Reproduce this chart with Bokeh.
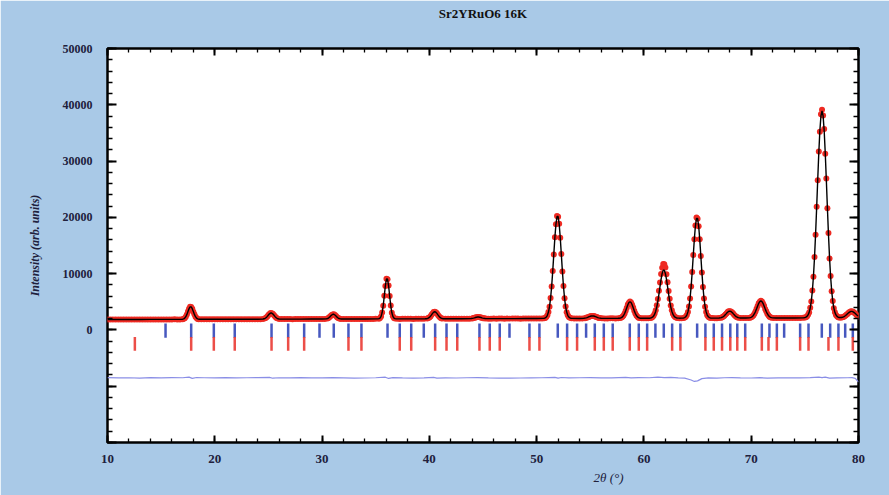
import math

from bokeh.plotting import figure
from bokeh.models import Range1d, LinearAxis, FixedTicker, ColumnDataSource, Title
from bokeh.embed import file_html
from bokeh.resources import INLINE

# ---------------------------------------------------------------------------
# Rietveld refinement of Sr2YRuO6 at 16 K
# ---------------------------------------------------------------------------

# Observed pattern (2theta in degrees, intensity in counts)
tth_obs = [
    10.0, 10.25, 10.5, 10.75, 11.0, 11.25, 11.5, 11.75, 12.0, 12.25, 12.5, 12.75, 13.0, 13.25, 13.5,
    13.75, 14.0, 14.25, 14.5, 14.75, 15.0, 15.25, 15.5, 15.75, 16.0, 16.25, 16.5, 16.75, 17.0,
    17.1, 17.2, 17.3, 17.4, 17.5, 17.6, 17.7, 17.8, 17.9, 18.0, 18.1, 18.2, 18.3, 18.4,
    18.5, 18.75, 19.0, 19.25, 19.5, 19.75, 20.0, 20.25, 20.5, 20.75, 21.0, 21.25, 21.5, 21.75, 22.0,
    22.25, 22.5, 22.75, 23.0, 23.25, 23.5, 23.75, 24.0, 24.25, 24.5,
    24.7, 24.8, 24.9, 25.0, 25.1, 25.2, 25.3, 25.4, 25.5, 25.6, 25.7, 25.8,
    26.0, 26.25, 26.5, 26.75, 27.0, 27.25, 27.5, 27.75, 28.0, 28.25, 28.5, 28.75, 29.0, 29.25, 29.5,
    29.75, 30.0, 30.25,
    30.5, 30.6, 30.7, 30.8, 30.9, 31.0, 31.1, 31.2, 31.3, 31.4, 31.5, 31.6,
    31.75, 32.0, 32.25, 32.5, 32.75, 33.0, 33.25, 33.5, 33.75, 34.0, 34.25, 34.5, 34.75, 35.0,
    35.3, 35.4, 35.5, 35.6, 35.7, 35.8, 35.9, 36.0, 36.1, 36.2, 36.3, 36.4, 36.5, 36.6, 36.7, 36.8,
    37.0, 37.25, 37.5, 37.75, 38.0, 38.25, 38.5, 38.75, 39.0, 39.25, 39.5,
    39.8, 39.9, 40.0, 40.1, 40.2, 40.3, 40.4, 40.5, 40.6, 40.7, 40.8, 40.9, 41.0, 41.1, 41.2,
    41.5, 41.75, 42.0, 42.25, 42.5, 42.75, 43.0, 43.25, 43.5, 43.75,
    44.0, 44.1, 44.2, 44.3, 44.4, 44.5, 44.6, 44.7, 44.8, 44.9, 45.0, 45.1,
    45.25, 45.5, 45.75, 46.0, 46.25, 46.5, 46.75, 47.0, 47.25, 47.5, 47.75, 48.0, 48.25, 48.5, 48.75,
    49.0, 49.25, 49.5, 49.75, 50.0, 50.25, 50.5,
    50.7, 50.8, 50.9, 51.0, 51.1, 51.2, 51.3, 51.4, 51.5, 51.6, 51.7, 51.8, 51.9, 52.0, 52.1, 52.2,
    52.3, 52.4, 52.5, 52.6, 52.7, 52.8, 52.9, 53.0, 53.1,
    53.25, 53.5, 53.75, 54.0, 54.25,
    54.5, 54.6, 54.7, 54.8, 54.9, 55.0, 55.1, 55.2, 55.3, 55.4, 55.5, 55.6, 55.7, 55.8, 55.9,
    56.1, 56.35, 56.6, 56.85, 57.1, 57.35, 57.6,
    57.8, 57.9, 58.0, 58.1, 58.2, 58.3, 58.4, 58.5, 58.6, 58.7, 58.8, 58.9, 59.0, 59.1, 59.2, 59.3,
    59.4, 59.5, 59.6,
    59.8, 60.0, 60.2, 60.4,
    60.6, 60.7, 60.8, 60.9, 61.0, 61.1, 61.2, 61.3, 61.4, 61.5, 61.6, 61.7, 61.8, 61.9, 62.0, 62.1,
    62.2, 62.3, 62.4, 62.5, 62.6, 62.7, 62.8, 62.9, 63.0, 63.1,
    63.3, 63.5,
    63.7, 63.8, 63.9, 64.0, 64.1, 64.2, 64.3, 64.4, 64.5, 64.6, 64.7, 64.8, 64.9, 65.0, 65.1, 65.2,
    65.3, 65.4, 65.5, 65.6, 65.7, 65.8, 65.9, 66.0, 66.1, 66.2,
    66.4, 66.6, 66.8, 67.0,
    67.2, 67.3, 67.4, 67.5, 67.6, 67.7, 67.8, 67.9, 68.0, 68.1, 68.2, 68.3, 68.4, 68.5, 68.6, 68.7,
    68.8,
    69.0, 69.25, 69.5, 69.75,
    69.9, 70.0, 70.1, 70.2, 70.3, 70.4, 70.5, 70.6, 70.7, 70.8, 70.9, 71.0, 71.1, 71.2, 71.3, 71.4,
    71.5, 71.6, 71.7, 71.8, 71.9,
    72.1, 72.35, 72.6, 72.85, 73.1, 73.35, 73.6, 73.85, 74.1, 74.35, 74.6, 74.85,
    75.0, 75.1, 75.2, 75.3, 75.4, 75.5, 75.6, 75.7, 75.8, 75.9, 76.0, 76.1, 76.2, 76.3, 76.4, 76.5,
    76.6, 76.7, 76.8, 76.9, 77.0, 77.1, 77.2, 77.3, 77.4, 77.5, 77.6, 77.7, 77.8, 77.9, 78.0, 78.1,
    78.2,
    78.3, 78.4, 78.5, 78.6, 78.7, 78.8, 78.9, 79.0, 79.1, 79.2, 79.3, 79.4, 79.5, 79.6, 79.7, 79.8,
    79.9, 80.0,
]
i_obs = [
    1860, 1845, 1855, 1850, 1840, 1860, 1855, 1850, 1865, 1850, 1845, 1860, 1870, 1855, 1860,
    1850, 1865, 1870, 1860, 1855, 1870, 1865, 1875, 1860, 1870, 1880, 1865, 1875, 1905,
    1975, 2090, 2360, 2750, 3290, 3760, 4110, 4070, 3780, 3250, 2770, 2340, 2110, 1960,
    1905, 1890, 1885, 1895, 1880, 1890, 1895, 1885, 1890, 1900, 1895, 1890, 1900, 1905, 1895,
    1900, 1910, 1900, 1905, 1910, 1900, 1910, 1915, 1905, 1940,
    2060, 2215, 2400, 2655, 2850, 3010, 2985, 2870, 2635, 2415, 2200, 2070,
    1945, 1925, 1920, 1930, 1925, 1915, 1930, 1925, 1935, 1920, 1930, 1940, 1925, 1935, 1940,
    1930, 1945, 1955,
    2030, 2110, 2280, 2455, 2670, 2760, 2790, 2640, 2470, 2260, 2125, 2015,
    1960, 1945, 1940, 1950, 1955, 1945, 1950, 1960, 1950, 1945, 1955, 1960, 1950, 1965,
    1995, 2120, 2400, 3110, 4290, 6080, 7820, 9110, 8990, 7900, 6010, 4350, 3070, 2430, 2100, 2010,
    1975, 1960, 1970, 1965, 1975, 1970, 1960, 1975, 1980, 1970, 1985,
    2025, 2105, 2230, 2405, 2690, 2930, 3165, 3220, 3160, 2955, 2660, 2425, 2215, 2090, 2035,
    1990, 1980, 1985, 1995, 1990, 1985, 1995, 2000, 1990, 2005,
    2050, 2100, 2145, 2215, 2260, 2300, 2290, 2270, 2205, 2155, 2090, 2060,
    2010, 2000, 2005, 2010, 2000, 2015, 2010, 2005, 2015, 2010, 2020, 2010, 2015, 2005, 2020,
    2015, 2010, 2025, 2020, 2015, 2030, 2040,
    2065, 2135, 2300, 2590, 3180, 4120, 5680, 7730, 10480, 13420, 16470, 18760, 20230, 20100, 18870, 16380,
    13510, 10400, 7790, 5620, 4160, 3150, 2610, 2285, 2145,
    2065, 2040, 2035, 2045, 2050,
    2095, 2145, 2205, 2265, 2355, 2415, 2480, 2490, 2470, 2430, 2345, 2275, 2190, 2135, 2105,
    2070, 2050, 2045, 2060, 2055, 2050, 2065,
    2110, 2190, 2320, 2575, 2900, 3420, 3940, 4500, 4850, 5040, 4880, 4460, 3970, 3390, 2930, 2550,
    2330, 2180, 2120,
    2075, 2065, 2070, 2085,
    2120, 2180, 2300, 2510, 2900, 3480, 4370, 5510, 6940, 8440, 9920, 11040, 11700, 11680, 11070, 9890,
    8470, 6910, 5530, 4350, 3500, 2880, 2520, 2290, 2190, 2120,
    2090, 2080,
    2125, 2205, 2335, 2660, 3190, 4170, 5600, 7720, 10280, 13310, 16120, 18550, 19960, 19750, 18430, 16090,
    13150, 10210, 7620, 5580, 4120, 3180, 2630, 2340, 2190, 2120,
    2100, 2090, 2095, 2110,
    2185, 2245, 2370, 2510, 2740, 2930, 3165, 3310, 3340, 3285, 3160, 2960, 2715, 2535, 2355, 2255,
    2170,
    2125, 2105, 2110, 2130,
    2180, 2240, 2380, 2560, 2890, 3260, 3780, 4250, 4750, 5020, 5180, 5060, 4700, 4290, 3740, 3300,
    2860, 2590, 2360, 2255, 2170,
    2125, 2115, 2120, 2130, 2115, 2125, 2130, 2120, 2135, 2125, 2130, 2150,
    2190, 2270, 2390, 2680, 3100, 3920, 5060, 6990, 9440, 12950, 16900, 21900, 26600, 31700, 35200, 38300,
    39100, 38100, 35700, 31300, 26900, 21600, 17200, 12700, 9600, 6850, 5150, 3860, 3140, 2650, 2410, 2260,
    2200,
    2195, 2215, 2250, 2310, 2430, 2545, 2740, 2890, 3090, 3200, 3300, 3280, 3230, 3060, 2920, 2710,
    2570, 2400,
]

# Calculated profile
tth_calc = [
    10.0, 11.0, 12.0, 13.0, 14.0, 15.0, 16.0, 17.0,
    17.1, 17.2, 17.3, 17.4, 17.5, 17.6, 17.7, 17.8, 17.9, 18.0, 18.1, 18.2, 18.3, 18.4,
    18.5, 19.0, 20.0, 21.0, 22.0, 23.0, 24.0, 24.5, 24.6,
    24.7, 24.8, 24.9, 25.0, 25.1, 25.2, 25.3, 25.4, 25.5, 25.6, 25.7, 25.8,
    25.9, 26.0, 27.0, 28.0, 29.0, 30.0, 30.4,
    30.5, 30.6, 30.7, 30.8, 30.9, 31.0, 31.1, 31.2, 31.3, 31.4, 31.5, 31.6,
    31.7, 31.8, 33.0, 34.0, 35.0, 35.2,
    35.3, 35.4, 35.5, 35.6, 35.7, 35.8, 35.9, 36.0, 36.1, 36.2, 36.3, 36.4, 36.5, 36.6, 36.7, 36.8,
    36.9, 38.0, 39.0, 39.6, 39.7,
    39.8, 39.9, 40.0, 40.1, 40.2, 40.3, 40.4, 40.5, 40.6, 40.7, 40.8, 40.9, 41.0, 41.1, 41.2,
    41.3, 41.4, 42.0, 43.0, 43.9,
    44.0, 44.1, 44.2, 44.3, 44.4, 44.5, 44.6, 44.7, 44.8, 44.9, 45.0, 45.1,
    45.2, 46.0, 47.0, 48.0, 49.0, 50.0, 50.6,
    50.7, 50.8, 50.9, 51.0, 51.1, 51.2, 51.3, 51.4, 51.5, 51.6, 51.7, 51.8, 51.9, 52.0, 52.1, 52.2,
    52.3, 52.4, 52.5, 52.6, 52.7, 52.8, 52.9, 53.0, 53.1,
    53.2, 53.3, 54.0, 54.4,
    54.5, 54.6, 54.7, 54.8, 54.9, 55.0, 55.1, 55.2, 55.3, 55.4, 55.5, 55.6, 55.7, 55.8, 55.9,
    56.0, 57.0, 57.6, 57.7,
    57.8, 57.9, 58.0, 58.1, 58.2, 58.3, 58.4, 58.5, 58.6, 58.7, 58.8, 58.9, 59.0, 59.1, 59.2, 59.3,
    59.4, 59.5, 59.6,
    59.7, 59.8, 60.2, 60.5,
    60.6, 60.7, 60.8, 60.9, 61.0, 61.1, 61.2, 61.3, 61.4, 61.5, 61.6, 61.7, 61.8, 61.9, 62.0, 62.1,
    62.2, 62.3, 62.4, 62.5, 62.6, 62.7, 62.8, 62.9, 63.0, 63.1,
    63.3, 63.5, 63.6,
    63.7, 63.8, 63.9, 64.0, 64.1, 64.2, 64.3, 64.4, 64.5, 64.6, 64.7, 64.8, 64.9, 65.0, 65.1, 65.2,
    65.3, 65.4, 65.5, 65.6, 65.7, 65.8, 65.9, 66.0, 66.1, 66.2,
    66.3, 66.5, 67.0, 67.1,
    67.2, 67.3, 67.4, 67.5, 67.6, 67.7, 67.8, 67.9, 68.0, 68.1, 68.2, 68.3, 68.4, 68.5, 68.6, 68.7,
    68.8,
    68.9, 69.0, 69.5, 69.8,
    69.9, 70.0, 70.1, 70.2, 70.3, 70.4, 70.5, 70.6, 70.7, 70.8, 70.9, 71.0, 71.1, 71.2, 71.3, 71.4,
    71.5, 71.6, 71.7, 71.8, 71.9,
    72.0, 72.3, 73.0, 74.0, 74.9,
    75.0, 75.1, 75.2, 75.3, 75.4, 75.5, 75.6, 75.7, 75.8, 75.9, 76.0, 76.1, 76.2, 76.3, 76.4, 76.5,
    76.6, 76.7, 76.8, 76.9, 77.0, 77.1, 77.2, 77.3, 77.4, 77.5, 77.6, 77.7, 77.8, 77.9, 78.0, 78.1,
    78.2,
    78.3, 78.4, 78.5, 78.6, 78.7, 78.8, 78.9, 79.0, 79.1, 79.2, 79.3, 79.4, 79.5, 79.6, 79.7, 79.8,
    79.9, 80.0,
]
i_calc = [
    1850, 1854, 1859, 1863, 1867, 1872, 1876, 1909,
    1967, 2099, 2353, 2755, 3271, 3772, 4087, 4087, 3772, 3271, 2755, 2353, 2099, 1967,
    1910, 1889, 1893, 1897, 1902, 1906, 1910, 1939, 1981,
    2066, 2207, 2408, 2644, 2864, 2997, 2997, 2864, 2644, 2408, 2207, 2066,
    1984, 1942, 1923, 1927, 1932, 1936, 1972,
    2023, 2119, 2271, 2465, 2655, 2774, 2774, 2655, 2465, 2271, 2119, 2023,
    1972, 1952, 1946, 1950, 1955, 1964,
    2002, 2111, 2413, 3090, 4323, 6049, 7862, 9043, 9043, 7862, 6049, 4323, 3090, 2413, 2111, 2002,
    1969, 1969, 1972, 1983, 1996,
    2030, 2098, 2222, 2417, 2673, 2942, 3150, 3230, 3150, 2942, 2673, 2417, 2222, 2098, 2030,
    1996, 1983, 1985, 1990, 2022,
    2054, 2095, 2150, 2211, 2264, 2296, 2296, 2264, 2211, 2150, 2095, 2054,
    2022, 2005, 2009, 2013, 2018, 2022, 2045,
    2070, 2139, 2292, 2597, 3169, 4140, 5650, 7758, 10442, 13464, 16425, 18814, 20151, 20151, 18814, 16425,
    13464, 10442, 7758, 5650, 4140, 3169, 2597, 2292, 2139,
    2072, 2045, 2039, 2069,
    2100, 2140, 2197, 2270, 2350, 2423, 2476, 2495, 2476, 2423, 2350, 2270, 2197, 2140, 2100,
    2069, 2051, 2062, 2075,
    2114, 2186, 2324, 2561, 2919, 3400, 3954, 4482, 4868, 5010, 4868, 4482, 3954, 3400, 2919, 2561,
    2324, 2186, 2114,
    2075, 2062, 2064, 2081,
    2115, 2168, 2272, 2466, 2800, 3328, 4101, 5128, 6375, 7734, 9015, 10039, 10602, 10602, 10039, 9015,
    7734, 6375, 5128, 4101, 3328, 2800, 2466, 2272, 2168, 2115,
    2088, 2090, 2100,
    2130, 2198, 2346, 2645, 3204, 4154, 5629, 7688, 10319, 13273, 16172, 18499, 19815, 19815, 18499, 16172,
    13273, 10319, 7688, 5629, 4154, 3204, 2645, 2346, 2198, 2130,
    2100, 2090, 2111, 2133,
    2178, 2250, 2362, 2523, 2725, 2946, 3151, 3298, 3350, 3298, 3151, 2946, 2725, 2523, 2362, 2250,
    2178,
    2133, 2111, 2111, 2137,
    2176, 2246, 2372, 2575, 2876, 3279, 3760, 4270, 4728, 5045, 5160, 5045, 4728, 4270, 3760, 3279,
    2876, 2575, 2372, 2246, 2176,
    2137, 2120, 2121, 2125, 2155,
    2195, 2265, 2400, 2661, 3118, 3890, 5105, 6934, 9499, 12862, 17024, 21757, 26739, 31479, 35417, 38022,
    38935, 38022, 35417, 31479, 26739, 21757, 17024, 12862, 9499, 6934, 5105, 3890, 3118, 2661, 2400, 2265,
    2195,
    2200, 2210, 2245, 2318, 2421, 2558, 2725, 2907, 3078, 3215, 3290, 3290, 3215, 3078, 2907, 2725,
    2558, 2421,
]

# Difference curve (Iobs - Icalc), plotted with an offset below the Bragg markers
tth_diff = [
    10.0, 11.0, 12.0, 13.0, 14.0, 15.0, 16.0, 17.0, 17.6, 17.9, 18.3, 19.0, 20.0, 21.0, 22.0, 23.0,
    24.0, 25.1, 25.4, 26.0, 27.0, 28.0, 29.0, 30.0, 31.0, 32.0, 33.0, 34.0, 35.0, 35.9, 36.2, 36.6,
    37.5, 38.5, 39.5, 40.4, 40.7, 41.5, 42.5, 43.5, 44.5, 45.5, 46.5, 47.5, 48.5, 49.5, 50.5, 51.7,
    52.0, 52.3, 53.0, 54.0, 55.0, 56.0, 57.0, 58.3, 58.8, 59.5, 60.5, 61.3, 61.9, 62.5, 63.2, 63.8,
    64.4, 64.7, 65.0, 65.4, 66.0, 66.8, 67.5, 68.2, 69.0, 70.0, 70.8, 71.5, 72.5, 73.5, 74.5, 75.5,
    75.9, 76.3, 76.6, 76.9, 77.3, 78.0, 79.0, 79.4, 79.7, 80.0,
]
i_diff = [
    -8480, -8520, -8500, -8550, -8480, -8510, -8490, -8500, -8380, -8600, -8450, -8500, -8520, -8490, -8530, -8500,
    -8480, -8420, -8580, -8500, -8520, -8480, -8510, -8530, -8480, -8520, -8560, -8540, -8500, -8400, -8620, -8480,
    -8520, -8550, -8520, -8440, -8560, -8520, -8540, -8500, -8460, -8520, -8550, -8560, -8540, -8520, -8500, -8420,
    -8560, -8450, -8520, -8500, -8470, -8530, -8520, -8440, -8520, -8480, -8500, -8400, -8480, -8430, -8520, -8560,
    -8900, -9150, -9050, -8650, -8520, -8560, -8500, -8460, -8520, -8540, -8480, -8550, -8520, -8510, -8530, -8480,
    -8420, -8380, -8460, -8380, -8550, -8520, -8500, -8470, -8600, -9250,
]

# Bragg reflection positions of the two refined phases
bragg_phase1 = [
    15.41, 17.80, 19.91, 21.86, 25.29, 26.84, 28.33, 29.76, 31.09, 32.46, 33.67, 36.10, 37.24, 38.31,
    39.48, 40.54, 41.60, 42.60, 44.67, 45.63, 46.56, 47.47, 49.33, 50.26, 51.97, 52.84, 53.77, 54.61,
    55.42, 56.26, 57.09, 58.68, 59.52, 60.30, 61.07, 61.85, 62.63, 63.40, 64.96, 65.73, 66.51, 67.28,
    68.05, 68.70, 69.44, 70.99, 71.70, 72.39, 73.07, 74.56, 75.34, 76.58, 77.36, 78.13, 78.76, 79.47,
]
bragg_phase2 = [
    12.55, 17.80, 19.91, 21.86, 25.29, 26.84, 28.33, 32.46, 33.67, 37.24, 38.31, 40.54, 41.60, 42.60,
    44.67, 45.63, 46.56, 49.33, 50.26, 52.84, 53.77, 55.42, 56.26, 57.09, 58.68, 59.52, 60.30, 62.63,
    63.40, 65.73, 66.51, 67.28, 68.05, 68.70, 69.44, 70.99, 71.61, 72.39, 74.56, 75.34, 77.20, 78.13,
    79.47,
]

# Axis ticks
x_major = [10, 20, 30, 40, 50, 60, 70, 80]
y_major = [-20000, -10000, 0, 10000, 20000, 30000, 40000, 50000]
y_labels = {50000: "50000", 40000: "40000", 30000: "30000", 20000: "20000",
            10000: "10000", 0: "0", -10000: "", -20000: ""}

assert len(tth_obs) == len(i_obs), (len(tth_obs), len(i_obs))
assert len(tth_calc) == len(i_calc), (len(tth_calc), len(i_calc))
assert len(tth_diff) == len(i_diff), (len(tth_diff), len(i_diff))

SERIF = "Liberation Serif"
LABEL_COLOR = "#20203c"

p = figure(
    width=889, height=495,
    x_range=Range1d(10, 80), y_range=Range1d(-20000, 50000),
    output_backend="svg", toolbar_location=None,
    min_border_left=107, min_border_right=31, min_border_top=48, min_border_bottom=53,
)
p.border_fill_color = "#a9c9e7"
p.background_fill_color = "white"
p.outline_line_color = "black"
p.outline_line_width = 2.5
p.xgrid.visible = False
p.ygrid.visible = False

x_minor = list(range(10, 81, 2))
y_minor = list(range(-20000, 50001, 2000))


def style_axis(ax, ticker, tick_major, tick_minor):
    ax.ticker = ticker
    ax.axis_line_color = None
    ax.major_tick_in = tick_major
    ax.major_tick_out = 0
    ax.minor_tick_in = tick_minor
    ax.minor_tick_out = 0
    ax.major_tick_line_width = 2
    ax.minor_tick_line_width = 1.3
    ax.major_tick_line_color = "black"
    ax.minor_tick_line_color = "black"
    ax.major_label_text_font = SERIF
    ax.major_label_text_font_style = "bold"
    ax.major_label_text_color = LABEL_COLOR


xb = p.xaxis[0]
style_axis(xb, FixedTicker(ticks=x_major, minor_ticks=x_minor), 7, 4)
xb.major_label_text_font_size = "13px"
xb.major_label_standoff = 12

yl = p.yaxis[0]
style_axis(yl, FixedTicker(ticks=y_major, minor_ticks=y_minor), 9, 5)
yl.major_label_text_font_size = "12px"
yl.major_label_standoff = 15
yl.major_label_overrides = y_labels
yl.axis_label = "Intensity (arb. units)"
yl.axis_label_text_font = SERIF
yl.axis_label_text_font_style = "bold italic"
yl.axis_label_text_font_size = "12px"
yl.axis_label_text_color = LABEL_COLOR
yl.axis_label_standoff = 18

# Mirror ticks on the top edge (no tick labels); its caption is the chart title
xt = LinearAxis(major_label_overrides={t: "" for t in x_major})
style_axis(xt, FixedTicker(ticks=x_major, minor_ticks=x_minor), 7, 4)
xt.major_label_standoff = 0
xt.axis_label = "Sr2YRuO6 16K"
xt.axis_label_text_font = SERIF
xt.axis_label_text_font_style = "bold"
xt.axis_label_text_font_size = "13px"
xt.axis_label_text_color = "#111111"
xt.axis_label_standoff = 28
p.add_layout(xt, "above")

# Mirror ticks on the right edge (no labels)
yr = LinearAxis(major_label_overrides={t: "" for t in y_major})
style_axis(yr, FixedTicker(ticks=y_major, minor_ticks=y_minor), 9, 5)
yr.major_label_standoff = 0
p.add_layout(yr, "right")

# x-axis caption
p.add_layout(Title(text="2θ (°)", align="left", offset=486, standoff=5,
                   text_font=SERIF, text_font_style="italic", text_font_size="13px",
                   text_color=LABEL_COLOR), "below")

# Difference curve
p.line(tth_diff, i_diff, line_color="#8a8ee6", line_width=1.2)

# Bragg markers: phase 1 (upper row), phase 2 (lower row)
p.segment(x0=bragg_phase1, y0=[-1400] * len(bragg_phase1),
          x1=bragg_phase1, y1=[1150] * len(bragg_phase1),
          line_color="#3346b8", line_width=2.5, line_alpha=0.9)
p.segment(x0=bragg_phase2, y0=[-3700] * len(bragg_phase2),
          x1=bragg_phase2, y1=[-1250] * len(bragg_phase2),
          line_color="#ea3b34", line_width=2.5, line_alpha=0.9)

# Observed data points and calculated profile
obs_src = ColumnDataSource(data=dict(x=tth_obs, y=i_obs))
p.scatter("x", "y", source=obs_src, marker="circle", size=6,
          fill_color="#ee2a22", line_color=None)
p.line(tth_calc, i_calc, line_color="black", line_width=1.4)

open("out.html", "w").write(file_html(p, INLINE))
